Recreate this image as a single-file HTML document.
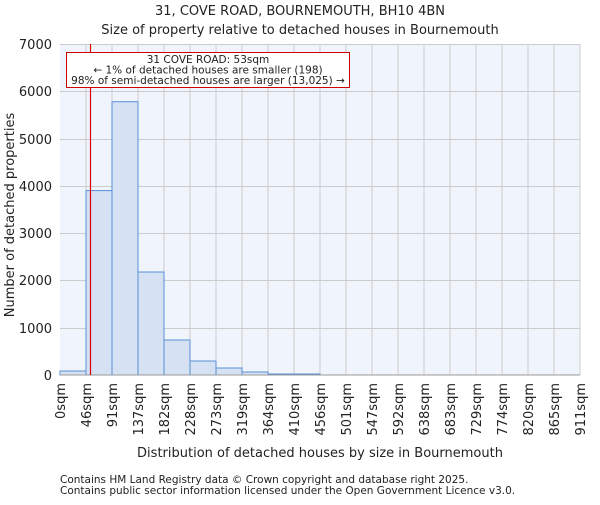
<!DOCTYPE html>
<html><head><meta charset="utf-8"><style>
body{margin:0;background:#fff}
svg text{font-family:"DejaVu Sans","Liberation Sans",sans-serif;fill:#222}
</style></head><body>
<svg width="600" height="500" xmlns="http://www.w3.org/2000/svg">
<text x="300" y="15" font-size="13" text-anchor="middle">31, COVE ROAD, BOURNEMOUTH, BH10 4BN</text>
<text x="300" y="34" font-size="13" text-anchor="middle">Size of property relative to detached houses in Bournemouth</text>
<rect x="60" y="44" width="520" height="331" fill="#f0f4fc"/>
<g stroke="#cccccc" stroke-width="1">
<line x1="60" x2="580" y1="44.5" y2="44.5"/><line x1="60" x2="580" y1="91.5" y2="91.5"/><line x1="60" x2="580" y1="139.5" y2="139.5"/><line x1="60" x2="580" y1="186.5" y2="186.5"/><line x1="60" x2="580" y1="233.5" y2="233.5"/><line x1="60" x2="580" y1="280.5" y2="280.5"/><line x1="60" x2="580" y1="328.5" y2="328.5"/>
<line x1="86" x2="86" y1="44" y2="375"/><line x1="112" x2="112" y1="44" y2="375"/><line x1="138" x2="138" y1="44" y2="375"/><line x1="164" x2="164" y1="44" y2="375"/><line x1="190" x2="190" y1="44" y2="375"/><line x1="216" x2="216" y1="44" y2="375"/><line x1="242" x2="242" y1="44" y2="375"/><line x1="268" x2="268" y1="44" y2="375"/><line x1="294" x2="294" y1="44" y2="375"/><line x1="320" x2="320" y1="44" y2="375"/><line x1="346" x2="346" y1="44" y2="375"/><line x1="372" x2="372" y1="44" y2="375"/><line x1="398" x2="398" y1="44" y2="375"/><line x1="424" x2="424" y1="44" y2="375"/><line x1="450" x2="450" y1="44" y2="375"/><line x1="476" x2="476" y1="44" y2="375"/><line x1="502" x2="502" y1="44" y2="375"/><line x1="528" x2="528" y1="44" y2="375"/><line x1="554" x2="554" y1="44" y2="375"/><line x1="580" x2="580" y1="44" y2="375"/>
</g>
<g fill="#d6e1f3" stroke="#5a8fd6" stroke-width="1">
<rect x="60" y="371" width="26" height="4"/>
<rect x="86" y="190.6" width="26" height="184.4"/>
<rect x="112" y="101.7" width="26" height="273.3"/>
<rect x="138" y="272" width="26" height="103"/>
<rect x="164" y="340" width="26" height="35"/>
<rect x="190" y="361" width="26" height="14"/>
<rect x="216" y="368" width="26" height="7"/>
<rect x="242" y="372" width="26" height="3"/>
<rect x="268" y="374" width="26" height="1"/>
<rect x="294" y="374" width="26" height="1"/>
</g>
<line x1="60" x2="580" y1="375" y2="375" stroke="#999"/>
<line x1="90.5" x2="90.5" y1="44" y2="375" stroke="#d00" stroke-width="1.2"/>
<rect x="66.5" y="52.5" width="283" height="35" fill="#fff" stroke="#c00"/>
<text x="208" y="63" font-size="10.5" text-anchor="middle">31 COVE ROAD: 53sqm</text>
<text x="208" y="73.5" font-size="10.5" text-anchor="middle">← 1% of detached houses are smaller (198)</text>
<text x="208" y="84" font-size="10.5" text-anchor="middle">98% of semi-detached houses are larger (13,025) →</text>
<g font-size="13" text-anchor="end">
<text x="52" y="49">7000</text><text x="52" y="96">6000</text><text x="52" y="144">5000</text><text x="52" y="191">4000</text><text x="52" y="238">3000</text><text x="52" y="285">2000</text><text x="52" y="333">1000</text><text x="52" y="380">0</text>
</g>
<text transform="translate(14,215) rotate(-90)" font-size="13" text-anchor="middle">Number of detached properties</text>
<g font-size="13" text-anchor="end">
<text transform="translate(65,383) rotate(-90)">0sqm</text>
<text transform="translate(91,383) rotate(-90)">46sqm</text>
<text transform="translate(117,383) rotate(-90)">91sqm</text>
<text transform="translate(143,383) rotate(-90)">137sqm</text>
<text transform="translate(169,383) rotate(-90)">182sqm</text>
<text transform="translate(195,383) rotate(-90)">228sqm</text>
<text transform="translate(221,383) rotate(-90)">273sqm</text>
<text transform="translate(247,383) rotate(-90)">319sqm</text>
<text transform="translate(273,383) rotate(-90)">364sqm</text>
<text transform="translate(299,383) rotate(-90)">410sqm</text>
<text transform="translate(325,383) rotate(-90)">456sqm</text>
<text transform="translate(351,383) rotate(-90)">501sqm</text>
<text transform="translate(377,383) rotate(-90)">547sqm</text>
<text transform="translate(403,383) rotate(-90)">592sqm</text>
<text transform="translate(429,383) rotate(-90)">638sqm</text>
<text transform="translate(455,383) rotate(-90)">683sqm</text>
<text transform="translate(481,383) rotate(-90)">729sqm</text>
<text transform="translate(507,383) rotate(-90)">774sqm</text>
<text transform="translate(533,383) rotate(-90)">820sqm</text>
<text transform="translate(559,383) rotate(-90)">865sqm</text>
<text transform="translate(585,383) rotate(-90)">911sqm</text>
</g>
<text x="320" y="457" font-size="13" text-anchor="middle">Distribution of detached houses by size in Bournemouth</text>
<text x="60" y="483" font-size="10.5">Contains HM Land Registry data © Crown copyright and database right 2025.</text>
<text x="60" y="494" font-size="10.5">Contains public sector information licensed under the Open Government Licence v3.0.</text>
</svg>
</body></html>
